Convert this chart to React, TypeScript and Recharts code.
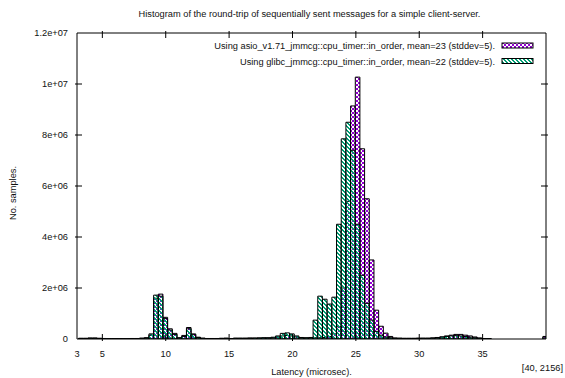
import React from 'react';
import { BarChart, Bar, XAxis, YAxis } from 'recharts';

// histogram bins: centre of first bin and bin width (microsec)
const BIN_START = 3.31;
const BIN_WIDTH = 0.37;

// samples per bin, in millions
const asioCounts = [
  0.03, 0.03, 0.04, 0.04, 0.03, 0.02, 0.01, 0.01, 0.01, 0.01,
  0.01, 0.02, 0.02, 0.03, 0.05, 0.15, 1.6, 1.76, 0.85, 0.4,
  0.22, 0.05, 0.14, 0.45, 0.2, 0.07, 0.03, 0.02, 0.02, 0.02,
  0.03, 0.03, 0.02, 0.03, 0.03, 0.03, 0.04, 0.03, 0.04, 0.04,
  0.04, 0.05, 0.08, 0.12, 0.14, 0.12, 0.08, 0.05, 0.04, 0.04,
  0.05, 0.05, 0.06, 0.1, 0.2, 0.48, 2.0, 5.4, 9.14, 10.27,
  7.46, 5.5, 3.1, 1.13, 0.5, 0.23, 0.1, 0.04, 0.03, 0.03,
  0.03, 0.03, 0.03, 0.03, 0.03, 0.04, 0.05, 0.08, 0.12, 0.15,
  0.18, 0.18, 0.15, 0.12, 0.08, 0.04, 0.02, 0.01, 0, 0,
  0, 0, 0, 0, 0, 0, 0, 0, 0, 0.1,
];
const glibcCounts = [
  0.02, 0.02, 0.03, 0.03, 0.02, 0.02, 0.01, 0.01, 0.01, 0.01,
  0.01, 0.02, 0.02, 0.03, 0.04, 0.2, 1.72, 1.68, 0.8, 0.35,
  0.18, 0.04, 0.1, 0.4, 0.17, 0.06, 0.03, 0.02, 0.02, 0.02,
  0.02, 0.03, 0.02, 0.03, 0.03, 0.03, 0.03, 0.04, 0.04, 0.05,
  0.05, 0.07, 0.12, 0.22, 0.24, 0.2, 0.12, 0.06, 0.05, 0.06,
  0.74, 1.68, 1.56, 1.37, 1.64, 4.5, 7.85, 8.5, 7.4, 4.5,
  2.5, 1.4, 0.74, 0.3, 0.15, 0.08, 0.05, 0.03, 0.03, 0.02,
  0.02, 0.02, 0.03, 0.03, 0.03, 0.04, 0.06, 0.08, 0.1, 0.12,
  0.13, 0.12, 0.1, 0.07, 0.05, 0.03, 0.01, 0.01, 0, 0,
  0, 0, 0, 0, 0, 0, 0, 0, 0, 0.08,
];

const xTicks = [3, 5, 10, 15, 20, 25, 30, 35, 40];
const xTickLabels = ['3', '5', '10', '15', '20', '25', '30', '35', '[40, 2156]'];
const yTicks = [0, 2, 4, 6, 8, 10, 12];
const yTickLabels = ['0', '2e+06', '4e+06', '6e+06', '8e+06', '1e+07', '1.2e+07'];

const seriesNames = [
  'Using asio_v1.71_jmmcg::cpu_timer::in_order, mean=23 (stddev=5).',
  'Using glibc_jmmcg::cpu_timer::in_order, mean=22 (stddev=5).',
];
const title = 'Histogram of the round-trip of sequentially sent messages for a simple client-server.';

const data = asioCounts.map((asio, i) => ({
  latency: +(BIN_START + i * BIN_WIDTH).toFixed(3),
  asio,
  glibc: glibcCounts[i],
}));

const W = 565;
const H = 378;
const TICK = 7;
const FONT = "'Liberation Sans', Arial, Helvetica, sans-serif";
const txt = { fontFamily: FONT, fontSize: 9.25, fill: '#111' };

function BottomTick(props: any) {
  const { x, y, payload } = props;
  const v = payload.value;
  const label = xTickLabels[xTicks.indexOf(v)];
  const inner = v > xTicks[0] && v < xTicks[xTicks.length - 1];
  const last = v === xTicks[xTicks.length - 1];
  return (
    <g>
      {inner && <line x1={x} x2={x} y1={y} y2={y - TICK} stroke="#000" />}
      {last ? (
        <text x={x + 17} y={y + 30} textAnchor="end" style={txt}>
          {label}
        </text>
      ) : (
        <text x={x} y={y + 16} textAnchor="middle" style={txt}>
          {label}
        </text>
      )}
    </g>
  );
}

function TopTick(props: any) {
  const { x, y, payload } = props;
  const v = payload.value;
  if (v <= xTicks[0] || v >= xTicks[xTicks.length - 1]) return <g />;
  return <line x1={x} x2={x} y1={y} y2={y + TICK} stroke="#000" />;
}

function LeftTick(props: any) {
  const { x, y, payload } = props;
  const v = payload.value;
  const inner = v > yTicks[0] && v < yTicks[yTicks.length - 1];
  return (
    <g>
      {inner && <line x1={x} x2={x + TICK} y1={y} y2={y} stroke="#000" />}
      <text x={x - 7} y={y + 3} textAnchor="end" style={txt}>
        {yTickLabels[yTicks.indexOf(v)]}
      </text>
    </g>
  );
}

function RightTick(props: any) {
  const { x, y, payload } = props;
  const v = payload.value;
  if (v <= yTicks[0] || v >= yTicks[yTicks.length - 1]) return <g />;
  return <line x1={x} x2={x - TICK} y1={y} y2={y} stroke="#000" />;
}

function KeyBox({ x, y, fill }: { x: number; y: number; fill: string }) {
  return <rect x={x} y={y} width={31} height={5} fill={fill} stroke="#000" strokeWidth={1} />;
}

export default function App() {
  return (
    <div style={{ position: 'absolute', left: 0, top: 0, width: W, height: H, background: '#fff' }}>
      <BarChart
        width={W}
        height={H}
        data={data}
        margin={{ top: 32, right: 18, bottom: 38, left: 76 }}
        barCategoryGap={0}
        barGap={0}
      >
        <defs>
          <pattern id="asioFill" width="4" height="4" patternUnits="userSpaceOnUse">
            <rect x="0" y="0" width="2" height="2" fill="#9400d3" />
            <rect x="2" y="2" width="2" height="2" fill="#9400d3" />
          </pattern>
          <pattern id="glibcFill" width="4" height="4" patternUnits="userSpaceOnUse">
            <rect x="0" y="0" width="2" height="1" fill="#009e73" />
            <rect x="1" y="1" width="2" height="1" fill="#009e73" />
            <rect x="2" y="2" width="2" height="1" fill="#009e73" />
            <rect x="3" y="3" width="1" height="1" fill="#009e73" />
            <rect x="0" y="3" width="1" height="1" fill="#009e73" />
          </pattern>
        </defs>
        <XAxis
          xAxisId="bottom"
          dataKey="latency"
          type="number"
          domain={[3, 40]}
          allowDataOverflow
          ticks={xTicks}
          interval={0}
          height={1}
          tickSize={0}
          tickLine={false}
          axisLine={{ stroke: '#000' }}
          tick={BottomTick}
          label={(p: any) => (
            <text x={p.viewBox.x + p.viewBox.width / 2} y={p.viewBox.y + 36} textAnchor="middle" style={txt}>
              Latency (microsec).
            </text>
          )}
        />
        <XAxis
          xAxisId="top"
          orientation="top"
          dataKey="latency"
          type="number"
          domain={[3, 40]}
          allowDataOverflow
          ticks={xTicks}
          interval={0}
          height={1}
          tickSize={0}
          tickLine={false}
          axisLine={{ stroke: '#000' }}
          tick={TopTick}
          label={(p: any) => (
            <text x={p.viewBox.x + p.viewBox.width / 2 - 2} y={p.viewBox.y - 15} textAnchor="middle" style={txt}>
              {title}
            </text>
          )}
        />
        <YAxis
          yAxisId="left"
          type="number"
          domain={[0, 12]}
          allowDataOverflow
          ticks={yTicks}
          interval={0}
          width={1}
          tickSize={0}
          tickLine={false}
          axisLine={{ stroke: '#000' }}
          tick={LeftTick}
          label={(p: any) => {
            const cx = 13;
            const cy = p.viewBox.y + p.viewBox.height / 2 + 7;
            return (
              <text x={cx} y={cy} transform={`rotate(-90 ${cx} ${cy})`} dy={3} textAnchor="middle" style={txt}>
                No. samples.
              </text>
            );
          }}
        />
        <YAxis
          yAxisId="right"
          orientation="right"
          type="number"
          domain={[0, 12]}
          allowDataOverflow
          ticks={yTicks}
          interval={0}
          width={1}
          tickSize={0}
          tickLine={false}
          axisLine={{ stroke: '#000' }}
          tick={RightTick}
          label={(p: any) => {
            const rx = p.viewBox.x;
            const ry = p.viewBox.y;
            return (
              <g>
                <text x={rx - 51} y={ry + 16} textAnchor="end" style={txt}>{seriesNames[0]}</text>
                <KeyBox x={rx - 44} y={ry + 10} fill="url(#asioFill)" />
                <text x={rx - 51} y={ry + 31.5} textAnchor="end" style={txt}>{seriesNames[1]}</text>
                <KeyBox x={rx - 44} y={ry + 25.5} fill="url(#glibcFill)" />
              </g>
            );
          }}
        />
        <Bar
          dataKey="asio"
          xAxisId="bottom"
          yAxisId="left"
          fill="url(#asioFill)"
          stroke="#000"
          strokeWidth={1}
          barSize={4.6}
          isAnimationActive={false}
        />
        <Bar
          dataKey="glibc"
          xAxisId="top"
          yAxisId="right"
          fill="url(#glibcFill)"
          stroke="#000"
          strokeWidth={1}
          barSize={4.6}
          isAnimationActive={false}
        />
      </BarChart>
    </div>
  );
}
